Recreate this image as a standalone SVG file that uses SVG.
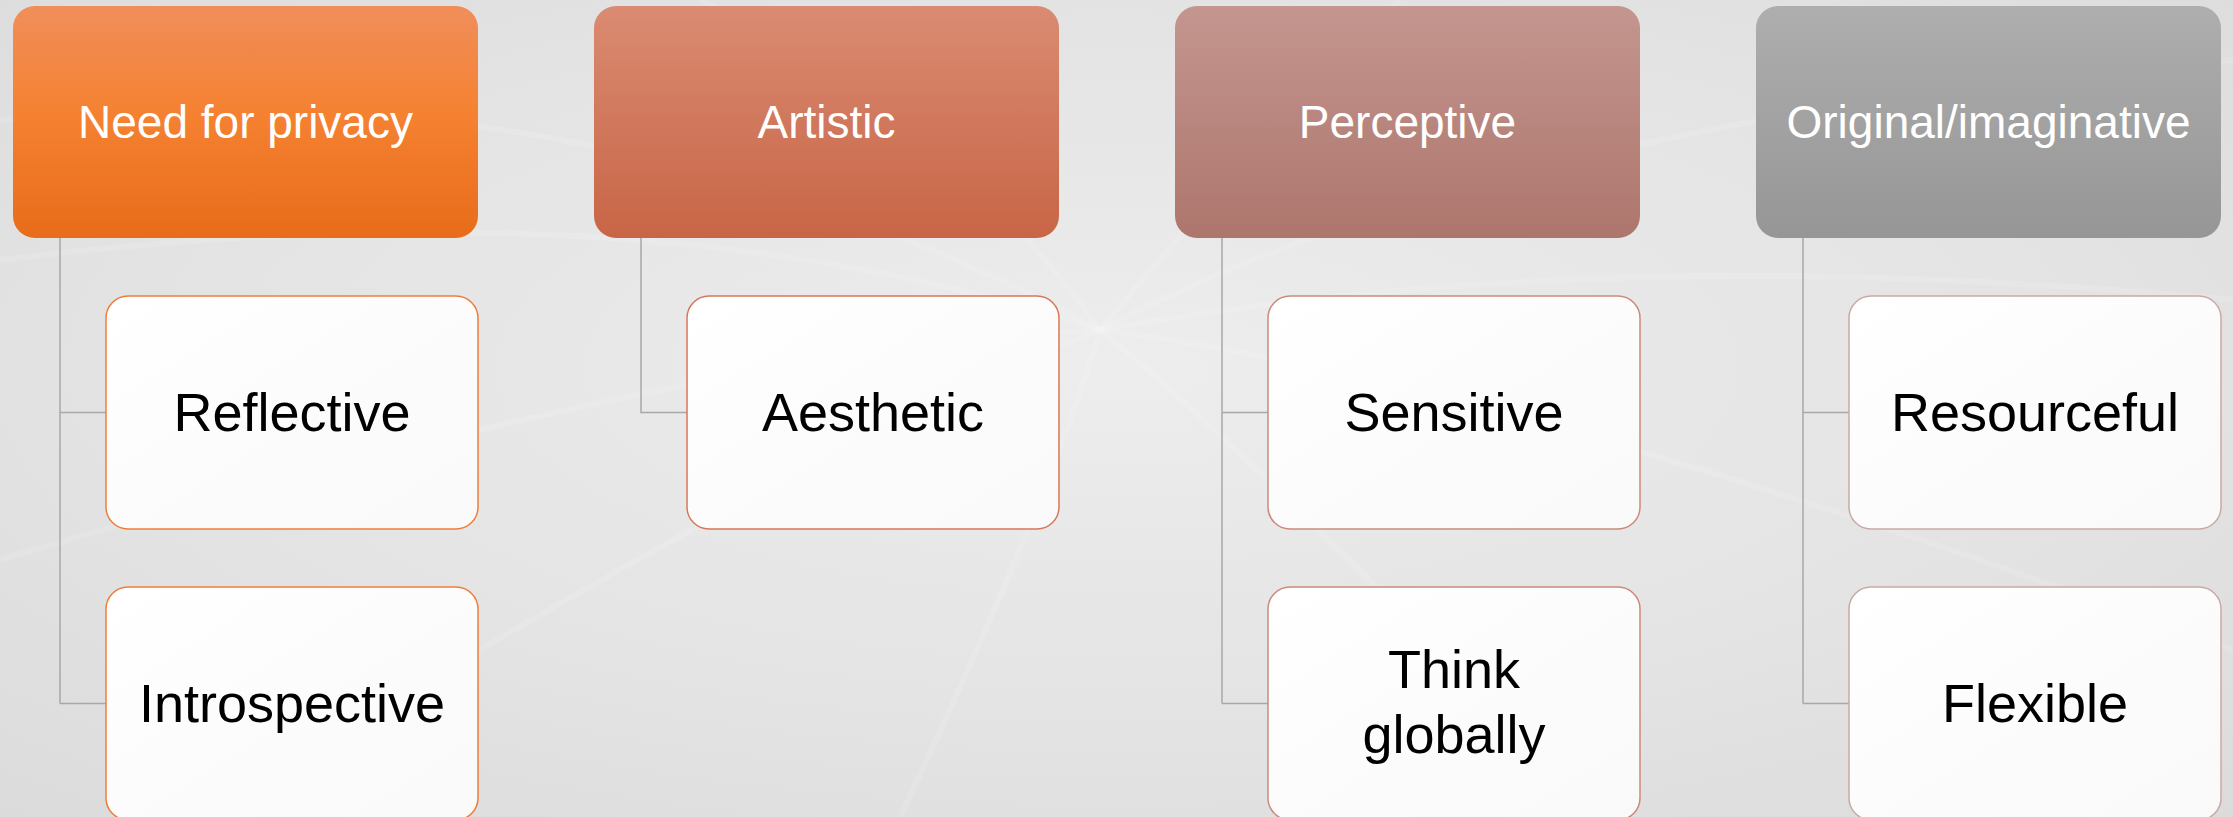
<svg xmlns="http://www.w3.org/2000/svg" width="2233" height="817" viewBox="0 0 2233 817">
  <defs>
    <radialGradient id="bg" cx="0.5" cy="0.45" r="0.75">
      <stop offset="0" stop-color="#EEEDED"/>
      <stop offset="0.6" stop-color="#E4E3E3"/>
      <stop offset="1" stop-color="#DCDBDB"/>
    </radialGradient>
    <linearGradient id="g1" x1="0" y1="0" x2="0" y2="1">
      <stop offset="0" stop-color="#F08E5B"/>
      <stop offset="0.45" stop-color="#F58232"/>
      <stop offset="1" stop-color="#E86C1A"/>
    </linearGradient>
    <linearGradient id="g2" x1="0" y1="0" x2="0" y2="1">
      <stop offset="0" stop-color="#DA8B72"/>
      <stop offset="1" stop-color="#C86546"/>
    </linearGradient>
    <linearGradient id="g3" x1="0" y1="0" x2="0" y2="1">
      <stop offset="0" stop-color="#C4968F"/>
      <stop offset="1" stop-color="#AD766D"/>
    </linearGradient>
    <linearGradient id="g4" x1="0" y1="0" x2="0" y2="1">
      <stop offset="0" stop-color="#AEAEAE"/>
      <stop offset="1" stop-color="#969696"/>
    </linearGradient>
    <linearGradient id="cf" x1="0" y1="0" x2="1" y2="1">
      <stop offset="0" stop-color="#FFFFFF"/>
      <stop offset="1" stop-color="#F9F9F9"/>
    </linearGradient>
  </defs>
  <style>
    .hdr { stroke: none; }
    .child { fill: url(#cf); stroke-width: 1.5; }
    .htxt { font-family: "Liberation Sans", Arial, sans-serif; font-size: 46px; fill: #FFFFFF; text-anchor: middle; }
    .ctxt { font-family: "Liberation Sans", Arial, sans-serif; font-size: 54px; fill: #000000; text-anchor: middle; }
    .conn { fill: none; stroke: #A8A8A8; stroke-width: 1.5; }
    .swirl { fill: none; stroke: #FFFFFF; stroke-opacity: 0.12; stroke-width: 6; }
  </style>

  <rect x="0" y="0" width="2233" height="817" fill="url(#bg)"/>
  <g id="background-texture">
    <path class="swirl" d="M0 120 Q600 60 1100 330"/>
    <path class="swirl" d="M0 260 Q650 180 1100 330"/>
    <path class="swirl" d="M0 560 Q700 350 1100 330"/>
    <path class="swirl" d="M200 817 Q800 450 1100 330"/>
    <path class="swirl" d="M900 817 Q1050 500 1100 330"/>
    <path class="swirl" d="M1600 817 Q1250 450 1100 330"/>
    <path class="swirl" d="M2233 650 Q1500 380 1100 330"/>
    <path class="swirl" d="M2233 300 Q1600 240 1100 330"/>
    <path class="swirl" d="M2233 60 Q1500 120 1100 330"/>
    <path class="swirl" d="M1400 0 Q1250 150 1100 330"/>
    <path class="swirl" d="M700 0 Q950 120 1100 330"/>
  </g>

  <g id="connectors">
    <path class="conn" d="M60 238 V703.5 M60 412.5 H106 M60 703.5 H106"/>
    <path class="conn" d="M641 238 V412.5 H687"/>
    <path class="conn" d="M1222 238 V703.5 M1222 412.5 H1268 M1222 703.5 H1268"/>
    <path class="conn" d="M1803 238 V703.5 M1803 412.5 H1849 M1803 703.5 H1849"/>
  </g>

  <g id="need-for-privacy">
    <rect class="hdr" x="13" y="6" width="465" height="232" rx="22" fill="url(#g1)"/>
    <text class="htxt" x="245.5" y="138">Need for privacy</text>
  </g>
  <g id="reflective">
    <rect class="child" x="106" y="296" width="372" height="233" rx="22" stroke="#EF7D3A"/>
    <text class="ctxt" x="292" y="431">Reflective</text>
  </g>
  <g id="introspective">
    <rect class="child" x="106" y="587" width="372" height="233" rx="22" stroke="#EF7D3A"/>
    <text class="ctxt" x="292" y="722">Introspective</text>
  </g>

  <g id="artistic">
    <rect class="hdr" x="594" y="6" width="465" height="232" rx="22" fill="url(#g2)"/>
    <text class="htxt" x="826.5" y="138">Artistic</text>
  </g>
  <g id="aesthetic">
    <rect class="child" x="687" y="296" width="372" height="233" rx="22" stroke="#D67758"/>
    <text class="ctxt" x="873" y="431">Aesthetic</text>
  </g>

  <g id="perceptive">
    <rect class="hdr" x="1175" y="6" width="465" height="232" rx="22" fill="url(#g3)"/>
    <text class="htxt" x="1407.5" y="138">Perceptive</text>
  </g>
  <g id="sensitive">
    <rect class="child" x="1268" y="296" width="372" height="233" rx="22" stroke="#CB8A7C"/>
    <text class="ctxt" x="1454" y="431">Sensitive</text>
  </g>
  <g id="think-globally">
    <rect class="child" x="1268" y="587" width="372" height="233" rx="22" stroke="#CB8A7C"/>
    <text class="ctxt" x="1454" y="688">Think</text>
    <text class="ctxt" x="1454" y="753">globally</text>
  </g>

  <g id="original-imaginative">
    <rect class="hdr" x="1756" y="6" width="465" height="232" rx="22" fill="url(#g4)"/>
    <text class="htxt" x="1988.5" y="138">Original/imaginative</text>
  </g>
  <g id="resourceful">
    <rect class="child" x="1849" y="296" width="372" height="233" rx="22" stroke="#C9A9A5"/>
    <text class="ctxt" x="2035" y="431">Resourceful</text>
  </g>
  <g id="flexible">
    <rect class="child" x="1849" y="587" width="372" height="233" rx="22" stroke="#C9A9A5"/>
    <text class="ctxt" x="2035" y="722">Flexible</text>
  </g>
</svg>
